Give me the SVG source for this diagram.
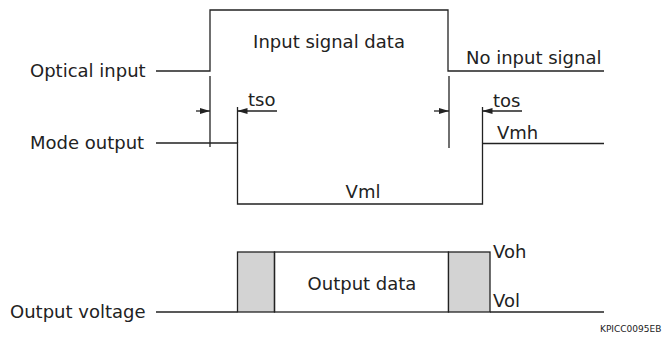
<svg xmlns="http://www.w3.org/2000/svg" width="664" height="347" viewBox="0 0 664 347">
<style>
.t{font-family:"DejaVu Sans","Verdana",sans-serif;font-size:18px;fill:#222}
.s{font-family:"DejaVu Sans",sans-serif;font-size:9px;fill:#222}
.l{fill:none;stroke:#222;stroke-width:1.3}
.g{fill:#d3d3d3;stroke:#222;stroke-width:1.3}
</style>
<defs>
<marker id="ah" viewBox="0 0 10 6" refX="10" refY="3" markerWidth="10" markerHeight="6" markerUnits="userSpaceOnUse" orient="auto">
<path d="M0,0 L10,3 L0,6 z" fill="#222"/>
</marker>
</defs>
<rect width="664" height="347" fill="#fff"/>
<g id="optical-input">
<text class="t" x="30" y="77">Optical input</text>
<path class="l" d="M156,71 H210 V10 H448 V71 H604"/>
<text class="t" x="329" y="48" text-anchor="middle">Input signal data</text>
<text class="t" x="466" y="64">No input signal</text>
</g>
<g id="mode-output">
<text class="t" x="30" y="149">Mode output</text>
<path class="l" d="M156,143 H237.5 V204 H482.5 V143.5 H604"/>
<text class="t" x="363" y="198" text-anchor="middle">Vml</text>
<text class="t" x="497" y="139">Vmh</text>
</g>
<g id="output-voltage">
<text class="t" x="10" y="318">Output voltage</text>
<path class="l" d="M156,312 H237.5"/>
<path class="l" d="M490,312 H604"/>
<rect class="g" x="237.5" y="252" width="37" height="60"/>
<rect class="l" x="274.5" y="252" width="174" height="60"/>
<rect class="g" x="448.5" y="252" width="41.5" height="60"/>
<text class="t" x="362" y="290" text-anchor="middle">Output data</text>
<text class="t" x="493" y="258">Voh</text>
<text class="t" x="493" y="307">Vol</text>
</g>
<g id="connectors">
<path class="l" d="M210,76 V147"/>
<path class="l" d="M237.5,107 V143"/>
<path class="l" d="M196,111 H210" marker-end="url(#ah)"/>
<path class="l" d="M277,111 H237.5" marker-end="url(#ah)"/>
<path class="l" d="M449,76 V148"/>
<path class="l" d="M482.5,107 V143"/>
<path class="l" d="M434,111 H449" marker-end="url(#ah)"/>
<path class="l" d="M522,111 H482.5" marker-end="url(#ah)"/>
</g>
<text class="t" x="248" y="106">tso</text>
<text class="t" x="493" y="107">tos</text>
<text class="s" x="600" y="332">KPICC0095EB</text>
</svg>
